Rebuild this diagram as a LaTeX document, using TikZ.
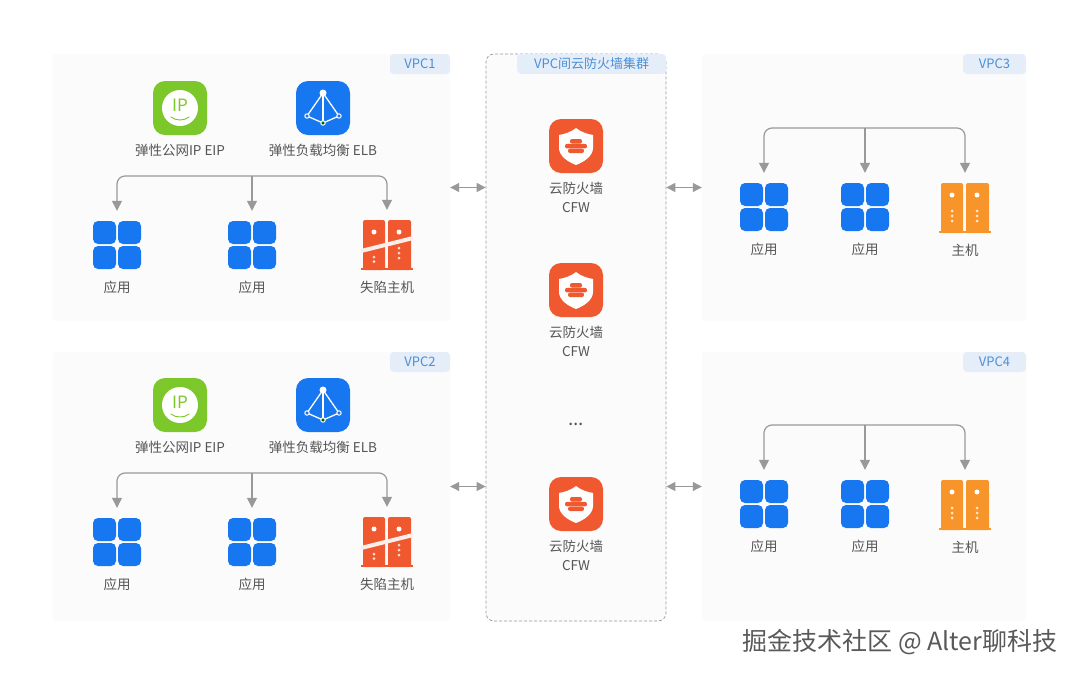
\documentclass[tikz,border=0pt]{standalone}
\usepackage{fontspec}
\usepackage{xcolor}
\usepackage{tikz}
\usetikzlibrary{arrows.meta,positioning,calc}
\setmainfont{Noto Sans CJK SC}
\definecolor{panelcolor}{HTML}{FBFBFB}
\definecolor{tagcolor}{HTML}{E5EDF9}
\definecolor{tagtext}{HTML}{4A90D6}
\definecolor{bluecolor}{HTML}{1677F0}
\definecolor{greencolor}{HTML}{7CC82B}
\definecolor{redcolor}{HTML}{F0592F}
\definecolor{orangecolor}{HTML}{F7952B}
\definecolor{linecolor}{HTML}{999999}
\definecolor{textcolor}{HTML}{555555}
\newcommand{\hostshape}[1]{%
  \begin{scope}[shift={(path picture bounding box.center)}]
    \fill[#1,rounded corners=2pt] (-24,-25) rectangle (-2,25);
    \fill[#1,rounded corners=2pt] (1,-25) rectangle (24,25);
    \fill[#1] (-26,23) rectangle (26,25);
    \foreach \px in {-13,12} {
      \fill[white] (\px,-13) circle (2.5);
    }
  \end{scope}}
\tikzset{
  vpc panel/.style={
    fill=panelcolor,
    rounded corners=3pt,
    inner sep=0pt
  },
  fw group/.style={
    vpc panel,
    draw=linecolor,
    line width=0.7pt,
    dash pattern=on 3pt off 2pt,
    rounded corners=8pt
  },
  vpc tag/.style={
    fill=tagcolor,
    rounded corners=4pt,
    text=tagtext,
    font=\fontsize{13}{13}\selectfont,
    minimum height=20pt,
    inner sep=0pt,
    anchor=north east
  },
  caption/.style={
    text=textcolor,
    font=\fontsize{13.5}{13.5}\selectfont,
    inner sep=0pt
  },
  app icon/.style={
    minimum size=48pt,
    inner sep=0pt,
    path picture={
      \begin{scope}[shift={(path picture bounding box.center)}]
        \fill[bluecolor,rounded corners=5pt] (-24,-24) rectangle (-1,-1);
        \fill[bluecolor,rounded corners=5pt] (1,-24) rectangle (24,-1);
        \fill[bluecolor,rounded corners=5pt] (-24,1) rectangle (-1,24);
        \fill[bluecolor,rounded corners=5pt] (1,1) rectangle (24,24);
      \end{scope}
    }
  },
  eip icon/.style={
    fill=greencolor,
    rounded corners=12pt,
    minimum size=54pt,
    inner sep=0pt,
    path picture={
      \begin{scope}[sharp corners,shift={(path picture bounding box.center)}]
        \fill[white] (0,0) circle (18);
        \draw[greencolor,line width=0.9pt,line cap=round] (-9,9) .. controls (-4,13) and (4,13) .. (9,9);
      \end{scope}
    }
  },
  elb icon/.style={
    fill=bluecolor,
    rounded corners=12pt,
    minimum size=54pt,
    inner sep=0pt,
    path picture={
      \begin{scope}[sharp corners,shift={(path picture bounding box.center)}]
        \draw[white,line width=1.3pt] (0,-15) -- (-16,8) -- (0,15) -- (16,8) -- cycle;
        \draw[white,line width=1.3pt] (0,-15) -- (0,15);
        \fill[white] (0,-15) circle (3.5);
        \fill[bluecolor,draw=white,line width=1pt] (-16,8) circle (2.2);
        \fill[bluecolor,draw=white,line width=1pt] (16,8) circle (2.2);
        \fill[black!60!green,draw=white,line width=1pt] (0,15) circle (2.2);
      \end{scope}
    }
  },
  cfw icon/.style={
    fill=redcolor,
    rounded corners=12pt,
    minimum size=54pt,
    inner sep=0pt,
    path picture={
      \begin{scope}[sharp corners,shift={(path picture bounding box.center)}]
        \fill[white] (0,-18) .. controls (5,-14) and (11,-12) .. (17,-11) -- (17,2)
          .. controls (17,10) and (8,16) .. (0,19)
          .. controls (-8,16) and (-17,10) .. (-17,2) -- (-17,-11)
          .. controls (-11,-12) and (-5,-14) .. (0,-18) -- cycle;
        \fill[redcolor,rounded corners=2pt] (-6,-7) rectangle (6,-2.4);
        \fill[redcolor,rounded corners=2pt] (-11,-2.1) rectangle (11,2.4);
        \fill[redcolor,rounded corners=2pt] (-8,2.7) rectangle (8,7);
      \end{scope}
    }
  },
  host icon/.style={
    minimum width=52pt,
    minimum height=50pt,
    inner sep=0pt,
    path picture={
      \hostshape{orangecolor}
      \begin{scope}[shift={(path picture bounding box.center)}]
        \foreach \px in {-13,12} {
          \foreach \py in {3,8,13} {
            \fill[white!80!orangecolor] (\px,\py) circle (1.5);
          }
        }
      \end{scope}
    }
  },
  fail icon/.style={
    minimum width=52pt,
    minimum height=50pt,
    inner sep=0pt,
    path picture={
      \hostshape{redcolor}
      \begin{scope}[shift={(path picture bounding box.center)}]
        \fill[white!80!redcolor] (-13,12) circle (1.5);
        \fill[white!80!redcolor] (-13,16.5) circle (1.5);
        \foreach \py in {3,8,13} {
          \fill[white!80!redcolor] (12,\py) circle (1.5);
        }
        \draw[white!90!redcolor,line width=4pt] (-26,6) -- (26,-7);
      \end{scope}
    }
  },
  ip text/.style={
    text=greencolor,
    font=\fontsize{17}{17}\selectfont,
    inner sep=0pt
  },
  flow/.style={
    -{Triangle[width=10pt,length=10pt]},
    draw=linecolor,
    fill=none,
    line width=1.2pt,
    rounded corners=8pt,
    shorten >=10pt
  },
  link/.style={
    {Triangle[width=9pt,length=9pt]}-{Triangle[width=9pt,length=9pt]},
    draw=linecolor,
    line width=1pt
  }
}
\begin{document}
\begin{tikzpicture}[x=1pt,y=-1pt]
  \useasboundingbox (0,0) rectangle (1080,675);

  % Panels
  \node[vpc panel, minimum width=397pt, minimum height=267pt] (vpc1) at (251.5,187.5) {};
  \node[vpc panel, minimum width=397pt, minimum height=269pt] (vpc2) at (251.5,486.5) {};
  \node[vpc panel, minimum width=324pt, minimum height=267pt] (vpc3) at (864,187.5) {};
  \node[vpc panel, minimum width=324pt, minimum height=269pt] (vpc4) at (864,486.5) {};
  \node[fw group, minimum width=180pt, minimum height=567pt] (fwgroup) at (576,337.5) {};

  % Tags
  \node[vpc tag, minimum width=60pt] (tag1) at (vpc1.north east) {VPC1};
  \node[vpc tag, minimum width=60pt] (tag2) at (vpc2.north east) {VPC2};
  \node[vpc tag, minimum width=63pt] (tag3) at (vpc3.north east) {VPC3};
  \node[vpc tag, minimum width=63pt] (tag4) at (vpc4.north east) {VPC4};
  \node[vpc tag, minimum width=149pt] (tagfw) at (fwgroup.north east) {VPC间云防火墙集群};

  % VPC1
  \node[eip icon] (eip1) at (180,108) {};
  \node[ip text] (iptext1) at (180,105) {IP};
  \node[elb icon] (elb1) at (323,108) {};
  \node[caption] (eipname1) at (180,150) {弹性公网IP EIP};
  \node[caption] (elbname1) at (323,150) {弹性负载均衡 ELB};
  \coordinate (bus1) at (252,176);
  \node[app icon] (app11) at (117,245) {};
  \node[app icon] (app12) at (252,245) {};
  \node[fail icon] (host1) at (387,245) {};
  \node[caption] (appname11) at (117,287) {应用};
  \node[caption] (appname12) at (252,287) {应用};
  \node[caption] (hostname1) at (387,287) {失陷主机};
  \draw[flow] (bus1) -| (app11.north);
  \draw[flow] (bus1) -- (app12.north);
  \draw[flow] (bus1) -| (host1.north);

  % VPC2
  \node[eip icon] (eip2) at (180,405) {};
  \node[ip text] (iptext2) at (180,402) {IP};
  \node[elb icon] (elb2) at (323,405) {};
  \node[caption] (eipname2) at (180,447) {弹性公网IP EIP};
  \node[caption] (elbname2) at (323,447) {弹性负载均衡 ELB};
  \coordinate (bus2) at (252,473);
  \node[app icon] (app21) at (117,542) {};
  \node[app icon] (app22) at (252,542) {};
  \node[fail icon] (host2) at (387,542) {};
  \node[caption] (appname21) at (117,584) {应用};
  \node[caption] (appname22) at (252,584) {应用};
  \node[caption] (hostname2) at (387,584) {失陷主机};
  \draw[flow] (bus2) -| (app21.north);
  \draw[flow] (bus2) -- (app22.north);
  \draw[flow] (bus2) -| (host2.north);

  % VPC3
  \coordinate (bus3) at (865,128);
  \node[app icon] (app31) at (764,207) {};
  \node[app icon] (app32) at (865,207) {};
  \node[host icon] (host3) at (965,208) {};
  \node[caption] (appname31) at (764,249) {应用};
  \node[caption] (appname32) at (865,249) {应用};
  \node[caption] (hostname3) at (965,250) {主机};
  \draw[flow] (bus3) -| (app31.north);
  \draw[flow] (bus3) -- (app32.north);
  \draw[flow] (bus3) -| (host3.north);

  % VPC4
  \coordinate (bus4) at (865,425);
  \node[app icon] (app41) at (764,504) {};
  \node[app icon] (app42) at (865,504) {};
  \node[host icon] (host4) at (965,505) {};
  \node[caption] (appname41) at (764,546) {应用};
  \node[caption] (appname42) at (865,546) {应用};
  \node[caption] (hostname4) at (965,547) {主机};
  \draw[flow] (bus4) -| (app41.north);
  \draw[flow] (bus4) -- (app42.north);
  \draw[flow] (bus4) -| (host4.north);

  % Firewalls
  \node[cfw icon] (cfw1) at (576,146) {};
  \node[caption] (cfwname1) at (576,188) {云防火墙};
  \node[caption] (cfwtype1) at (576,208) {CFW};
  \node[cfw icon] (cfw2) at (576,290) {};
  \node[caption] (cfwname2) at (576,332) {云防火墙};
  \node[caption] (cfwtype2) at (576,352) {CFW};
  \node[caption, font=\fontsize{19}{19}\selectfont] (cfwmore) at (576,424) {...};
  \node[cfw icon] (cfw3) at (576,504) {};
  \node[caption] (cfwname3) at (576,546) {云防火墙};
  \node[caption] (cfwtype3) at (576,566) {CFW};

  % Connections
  \draw[link] (vpc1.east) -- (fwgroup.west |- vpc1.east);
  \draw[link] (vpc2.east) -- (fwgroup.west |- vpc2.east);
  \draw[link] (fwgroup.east |- vpc3.west) -- (vpc3.west);
  \draw[link] (fwgroup.east |- vpc4.west) -- (vpc4.west);

  % Watermark
  \node[text=black!65, font=\fontsize{25}{25}\selectfont, inner sep=0pt] (mark) at (900,642) {掘金技术社区 @ Alter聊科技};
\end{tikzpicture}
\end{document}
